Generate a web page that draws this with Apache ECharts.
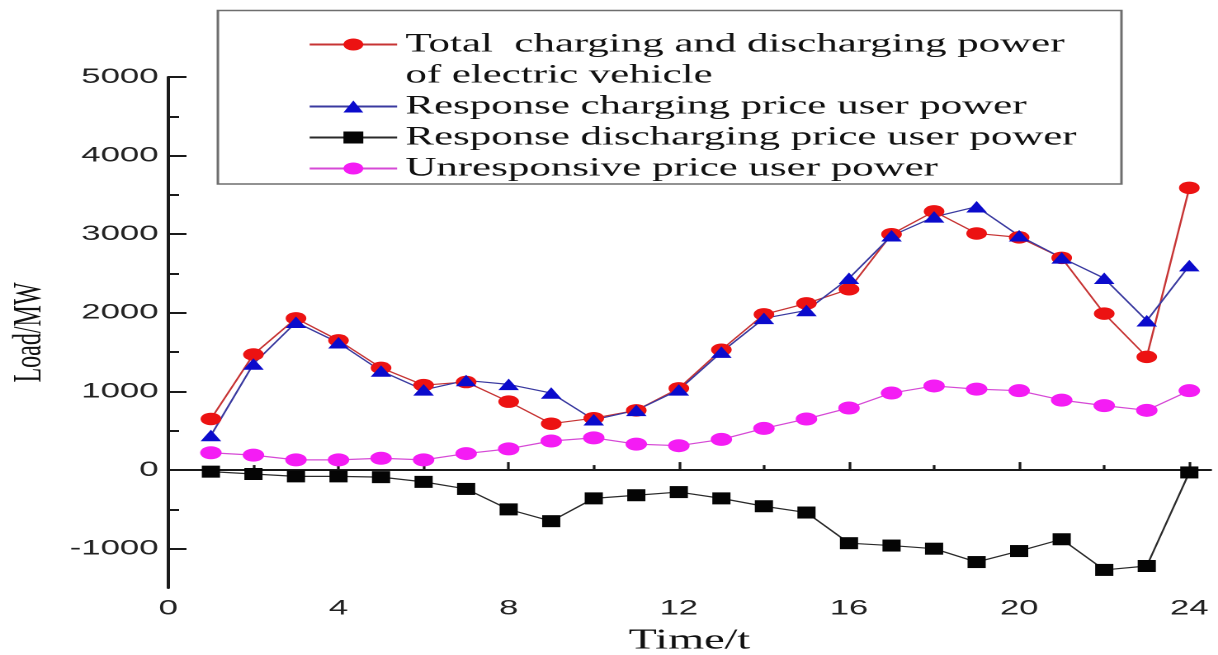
<!DOCTYPE html>
<html>
<head>
<meta charset="utf-8">
<script src="https://cdn.jsdelivr.net/npm/echarts@6/dist/echarts.min.js"></script>
<style>
  html, body { margin: 0; padding: 0; background: #fff; overflow: hidden; }
  #wrap { width: 1218px; height: 655px; overflow: hidden; position: relative; background: #fff; }
  /* the figure is drawn narrow and widened horizontally, as in the printed original */
  #chart { width: 738px; height: 655px; transform: scaleX(1.65041); transform-origin: 0 0; }
</style>
</head>
<body>
<div id="wrap"><div id="chart"></div></div>
<script>
// hourly time slots
const hours = [1, 2, 3, 4, 5, 6, 7, 8, 9, 10, 11, 12, 13, 14, 15, 16, 17, 18, 19, 20, 21, 22, 23, 24];

// load in MW for each slot
const totalPower       = [650, 1470, 1930, 1650, 1300, 1080, 1120, 870, 590, 660, 760, 1040, 1530, 1980, 2120, 2300, 3000, 3290, 3010, 2960, 2700, 1990, 1440, 3590];
const chargingUser     = [440, 1350, 1880, 1620, 1260, 1020, 1140, 1090, 980, 640, 760, 1020, 1500, 1930, 2030, 2440, 2980, 3220, 3350, 2980, 2700, 2440, 1900, 2600];
const dischargingUser  = [-20, -50, -80, -80, -90, -150, -240, -500, -650, -360, -320, -280, -360, -460, -540, -930, -960, -1000, -1170, -1030, -880, -1270, -1220, -30];
const unresponsiveUser = [220, 190, 130, 130, 150, 130, 210, 270, 370, 410, 330, 310, 390, 530, 650, 790, 980, 1070, 1030, 1010, 890, 820, 760, 1010];

// series names
const seriesNames = [
  'Total  charging and discharging power\nof electric vehicle',
  'Response charging price user power',
  'Response discharging price user power',
  'Unresponsive price user power'
];

// axis ticks
const xTickLabels = [0, 4, 8, 12, 16, 20, 24];
const xMinorTicks = [2, 6, 10, 14, 18, 22];
const yTickLabels = [-1000, 0, 1000, 2000, 3000, 4000, 5000];
const yMinorTicks = [-500, 500, 1500, 2500, 3500, 4500];

const pairs = vals => hours.map((h, i) => [h, vals[i]]);

const sans = 'Liberation Sans, Arial, sans-serif';
const serif = 'Liberation Serif, Times New Roman, serif';
const ink = '#1a1a1a';

const chart = echarts.init(document.getElementById('chart'), null, { renderer: 'canvas', devicePixelRatio: 2 });

const minorAxis = {
  type: 'value',
  axisLine: { show: false },
  axisLabel: { show: false },
  splitLine: { show: false }
};

chart.setOption({
  animation: false,
  backgroundColor: '#fff',
  grid: { left: 102, right: 4.5, top: 77, bottom: 67, containLabel: false, outerBoundsMode: 'none' },
  legend: {
    orient: 'vertical',
    left: 186.6,
    top: -2,
    padding: 0,
    itemGap: 0,
    itemWidth: 53,
    itemHeight: 15,
    textStyle: { fontFamily: serif, fontSize: 26, color: '#111', lineHeight: 31 },
    // a blank leading line keeps the icon level with the first line of the two-line entry
    formatter: name => (name === seriesNames[0] ? '\n' + name : name),
    data: seriesNames
  },
  graphic: [{
    type: 'rect',
    shape: { x: 132, y: 10.5, width: 547.5, height: 173.5 },
    style: { fill: 'none', stroke: '#6e6e6e', lineWidth: 1.5 },
    z: 100, silent: true
  }],
  xAxis: [{
    type: 'value', position: 'bottom', min: 0, max: 24.5,
    name: 'Time/t', nameLocation: 'middle', nameGap: 39,
    nameTextStyle: { fontFamily: serif, fontSize: 28, color: '#111' },
    axisLine: { lineStyle: { color: ink, width: 2 } },
    axisTick: { inside: true, length: 8, lineStyle: { color: ink, width: 1.6 }, customValues: xTickLabels },
    axisLabel: { customValues: xTickLabels, formatter: v => String(v), fontFamily: sans, fontSize: 21, color: '#222', margin: 10 },
    splitLine: { show: false }
  }, Object.assign({}, minorAxis, {
    position: 'bottom', min: 0, max: 24.5,
    axisTick: { inside: true, length: 5, lineStyle: { color: ink, width: 1.6 }, customValues: xMinorTicks }
  })],
  yAxis: [{
    type: 'value', position: 'left', min: -1500, max: 5000,
    name: 'Load/MW', nameLocation: 'middle', nameGap: 72,
    nameTextStyle: { fontFamily: serif, fontSize: 24, color: '#111' },
    axisLine: { lineStyle: { color: ink, width: 2 } },
    axisTick: { inside: true, length: 11, lineStyle: { color: ink, width: 2 }, customValues: yTickLabels },
    axisLabel: { customValues: yTickLabels, formatter: v => String(v), fontFamily: sans, fontSize: 21, color: '#222', margin: 6 },
    splitLine: { show: false }
  }, Object.assign({}, minorAxis, {
    position: 'left', min: -1500, max: 5000,
    axisTick: { inside: true, length: 6.5, lineStyle: { color: ink, width: 2 }, customValues: yMinorTicks }
  })],
  series: [{
    name: seriesNames[0], type: 'line', data: pairs(totalPower),
    symbol: 'circle', symbolSize: 12.5,
    itemStyle: { color: '#ec1212' },
    lineStyle: { color: '#c73434', width: 1.2 }
  }, {
    name: seriesNames[1], type: 'line', data: pairs(chargingUser),
    symbol: 'triangle', symbolSize: [12.5, 11.5],
    itemStyle: { color: '#0b0bcc' },
    lineStyle: { color: '#3a3aa0', width: 1.2 }
  }, {
    name: seriesNames[2], type: 'line', data: pairs(dischargingUser),
    symbol: 'rect', symbolSize: [11, 12],
    itemStyle: { color: '#050505' },
    lineStyle: { color: '#2a2a2a', width: 1.2 }
  }, {
    name: seriesNames[3], type: 'line', data: pairs(unresponsiveUser),
    symbol: 'circle', symbolSize: 13,
    itemStyle: { color: '#f41cf4' },
    lineStyle: { color: '#d64ad6', width: 1.2 }
  }]
});
</script>
</body>
</html>
